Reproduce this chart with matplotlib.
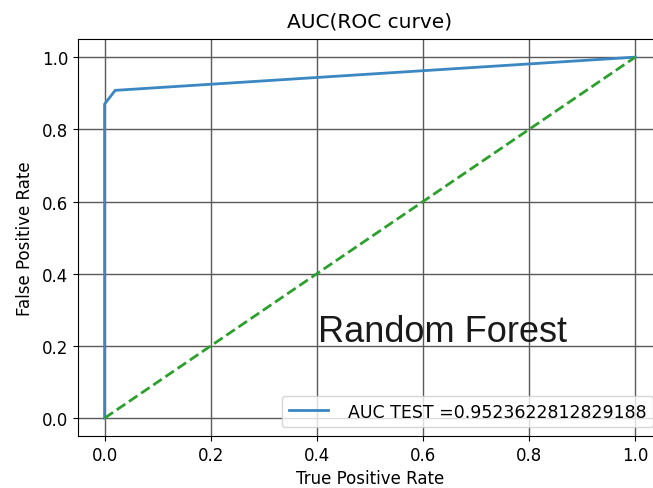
import matplotlib.pyplot as plt

# ROC curve points
fpr = [0.0, 0.0, 0.02, 1.0]
tpr = [0.0, 0.87, 0.908, 1.0]
diag = [0.0, 1.0]
auc_test = 0.9523622812829188

ticks = [0.0, 0.2, 0.4, 0.6, 0.8, 1.0]

plt.rcParams['font.size'] = 12

fig = plt.figure(figsize=(6.53, 4.89), dpi=100)
ax = fig.add_axes([0.1195, 0.106, 0.894, 0.812])

ax.plot(fpr, tpr, color='#3a87c2', lw=2, label='AUC TEST =' + str(auc_test))
ax.plot(diag, diag, color='#2ca02c', lw=2, linestyle='--')

ax.grid(True, color='#5a5a5a', lw=1)
ax.set_xticks(ticks)
ax.set_yticks(ticks)
ax.set_xlim(-0.05, 1.05)
ax.set_ylim(-0.05, 1.05)

ax.set_title('AUC(ROC curve)', fontsize=14.5, pad=9)
ax.set_xlabel('True Positive Rate', labelpad=4)
ax.set_ylabel('False Positive Rate', labelpad=6)

ax.text(0.402, 0.2145, 'Random Forest', fontsize=26, family='Liberation Sans',
        color='#1a1a1a')

ax.legend(loc='lower right', fontsize=12.5, handletextpad=1.1, handlelength=2.3)

fig.savefig('out.png', dpi=100)
